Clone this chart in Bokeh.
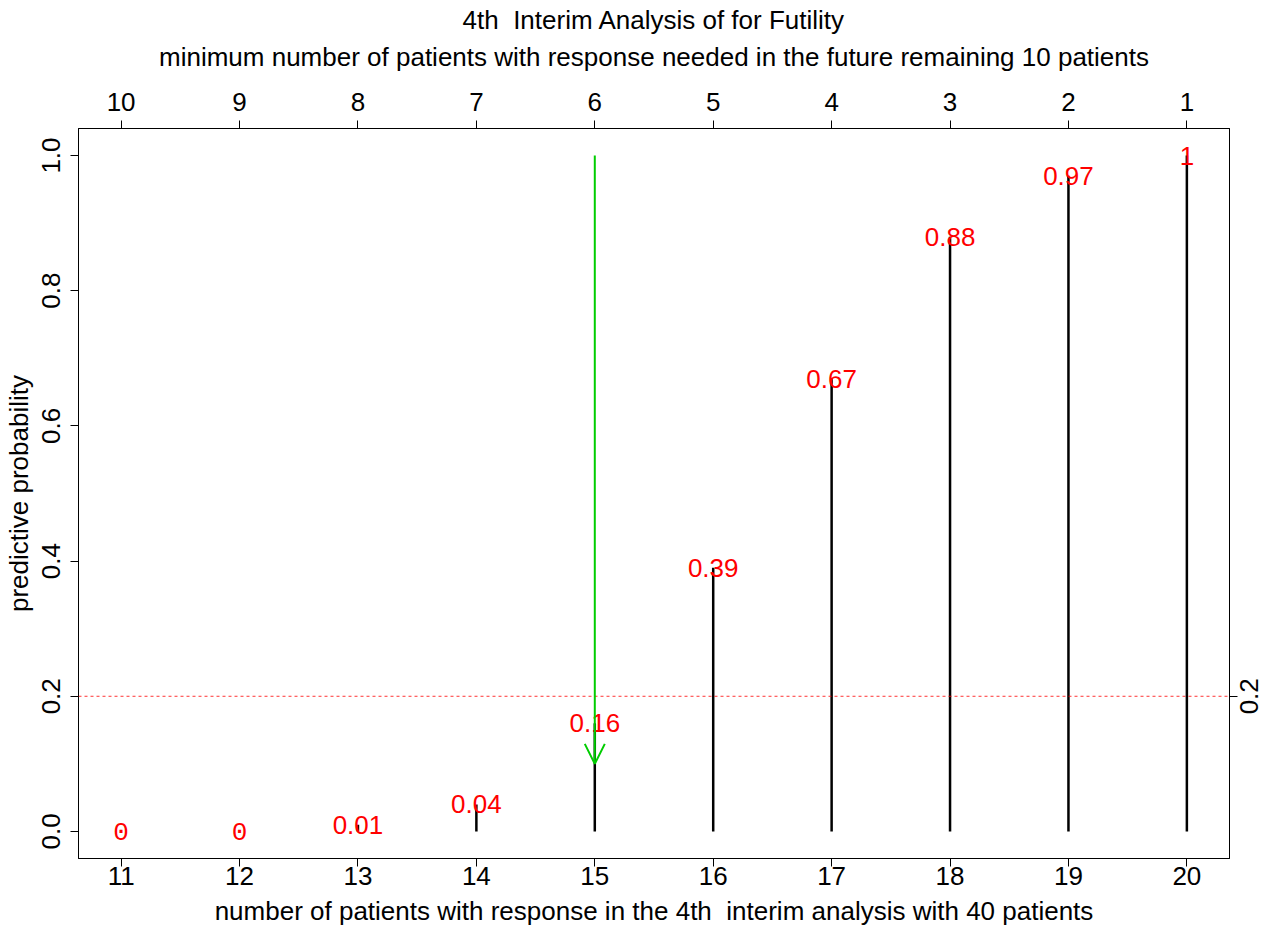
import math
from bokeh.plotting import figure
from bokeh.models import (LinearAxis, FixedTicker, Range1d, Title, Arrow, OpenHead,
                          Span, ColumnDataSource, PrintfTickFormatter, Label)
from bokeh.embed import file_html
from bokeh.resources import INLINE

# ---- data ----
responses = [11, 12, 13, 14, 15, 16, 17, 18, 19, 20]
remaining_needed = [10, 9, 8, 7, 6, 5, 4, 3, 2, 1]
pred_prob = [0, 0, 0.01, 0.04, 0.16, 0.39, 0.67, 0.88, 0.97, 1]
prob_labels = ["0", "0", "0.01", "0.04", "0.16", "0.39", "0.67", "0.88", "0.97", "1"]
y_ticks = [0.0, 0.2, 0.4, 0.6, 0.8, 1.0]
threshold = 0.2
threshold_label = "0.2"
arrow_x = 15
arrow_from = 1.0
arrow_to = 0.1

title1 = "4th  Interim Analysis of for Futility"
title2 = "minimum number of patients with response needed in the future remaining 10 patients"
xlab = "number of patients with response in the 4th  interim analysis with 40 patients"
ylab = "predictive probability"

FONT = "Liberation Sans"
MONO = "Liberation Mono"
FS = "26px"


def keep_spaces(s):
    return s.replace("  ", "\u00a0 ")


label_fonts = [MONO if v == 0 else FONT for v in pred_prob]
src = ColumnDataSource(dict(x=responses, y=pred_prob, y0=[0] * len(responses),
                            lab=prob_labels, font=label_fonts))

p = figure(width=1262, height=930, output_backend="svg", toolbar_location=None,
           x_range=Range1d(10.64, 20.36), y_range=Range1d(-0.04, 1.04),
           x_axis_location=None, y_axis_location=None,
           min_border_left=78, min_border_right=33, min_border_top=128, min_border_bottom=72)
p.title_location = None
p.grid.visible = False
p.outline_line_color = "black"
p.outline_line_width = 1
p.background_fill_color = "white"
p.border_fill_color = "white"


def style_axis(ax):
    ax.major_tick_in = 0
    ax.major_tick_out = 8
    ax.minor_tick_line_color = None
    ax.axis_line_color = "black"
    ax.major_tick_line_color = "black"
    ax.major_label_text_font = FONT
    ax.major_label_text_font_size = FS
    ax.major_label_text_color = "black"
    ax.axis_label_text_font = FONT
    ax.axis_label_text_font_size = FS
    ax.axis_label_text_font_style = "normal"
    ax.axis_label_text_color = "black"


bottom = LinearAxis(ticker=FixedTicker(ticks=responses), axis_label=keep_spaces(xlab))
style_axis(bottom)
bottom.major_label_standoff = 0
bottom.axis_label_standoff = 8
p.add_layout(bottom, "below")

top = LinearAxis(ticker=FixedTicker(ticks=responses))
top.major_label_overrides = {r: str(n) for r, n in zip(responses, remaining_needed)}
style_axis(top)
top.major_label_standoff = 10
p.add_layout(top, "above")

left = LinearAxis(ticker=FixedTicker(ticks=y_ticks), axis_label=ylab,
                  formatter=PrintfTickFormatter(format="%.1f"))
style_axis(left)
left.major_label_orientation = "vertical"
left.major_label_standoff = 10
left.axis_label_standoff = 6
p.add_layout(left, "left")

right = LinearAxis(ticker=FixedTicker(ticks=[threshold]))
style_axis(right)
right.major_label_overrides = {threshold: ""}
right.major_label_standoff = 0
p.add_layout(right, "right")

p.add_layout(Label(x=11, x_units="screen", y=threshold, y_units="data", text=threshold_label,
                   angle=math.pi / 2, text_align="center", text_baseline="middle",
                   text_font=FONT, text_font_size=FS, text_color="black"), "right")

p.add_layout(Title(text=title2, align="center", text_font=FONT, text_font_size=FS,
                   text_font_style="normal", text_color="black", standoff=35), "above")
p.add_layout(Title(text=keep_spaces(title1), align="center", text_font=FONT, text_font_size=FS,
                   text_font_style="normal", text_color="black", standoff=-24), "above")

p.add_layout(Span(location=threshold, dimension="width", line_color="#FF0000",
                  line_dash="3 3", line_width=1, line_alpha=0.8))

p.segment(x0="x", y0="y0", x1="x", y1="y", source=src, line_color="black", line_width=2.5)

p.add_layout(Arrow(end=OpenHead(size=20, line_color="#00CD00", line_width=2),
                   x_start=arrow_x, y_start=arrow_from, x_end=arrow_x, y_end=arrow_to,
                   line_color="#00CD00", line_width=2))

p.text(x="x", y="y", text="lab", source=src, text_color="#FF0000",
       text_font="font", text_font_size=FS, text_align="center", text_baseline="middle")

open("out.html", "w").write(file_html(p, INLINE))
